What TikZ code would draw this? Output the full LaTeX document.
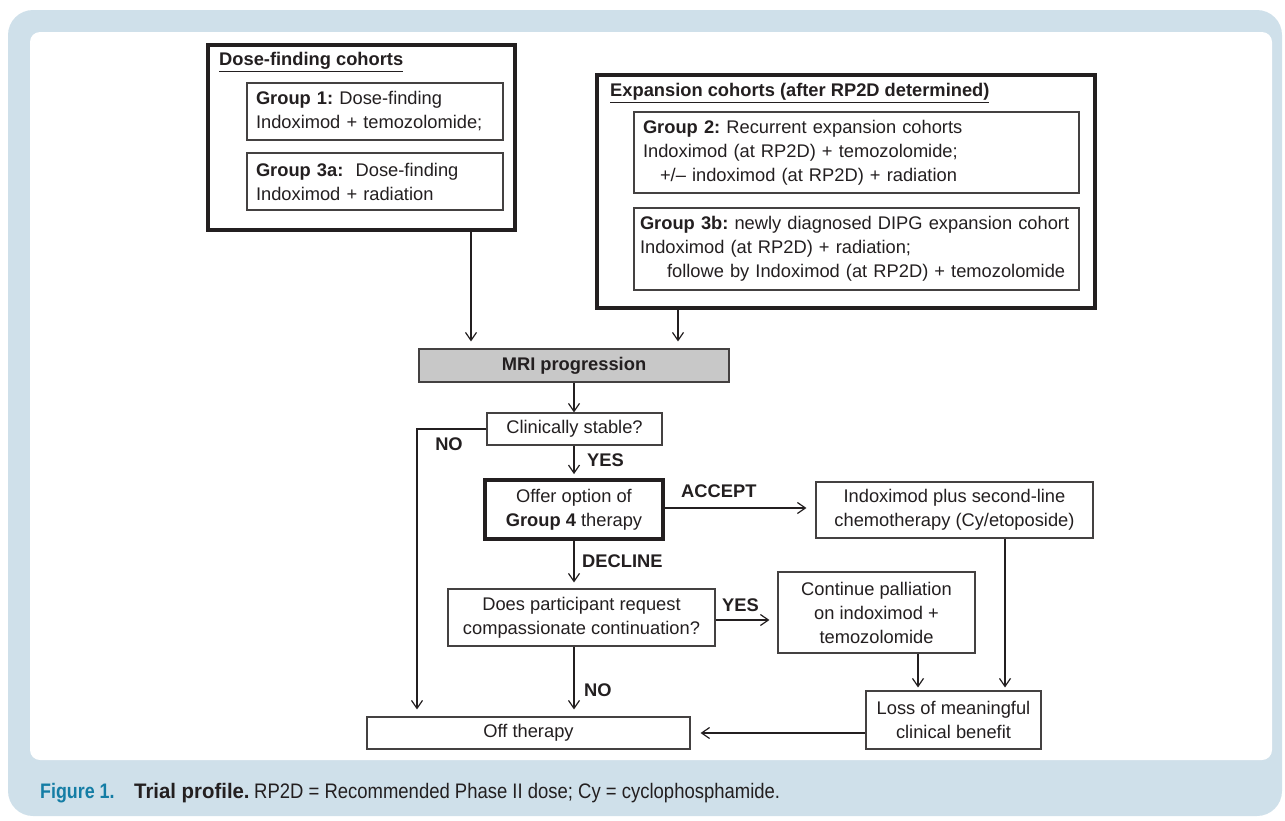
\documentclass[tikz,border=0pt]{standalone}
\usepackage{fontspec}
\setmainfont{Liberation Sans}
\newfontfamily\capfont[FakeStretch=0.88]{Liberation Sans}
\newfontfamily\capfigfont[FakeStretch=0.85]{Liberation Sans}
\newfontfamily\capwide[FakeStretch=0.97]{Liberation Sans}
\usetikzlibrary{arrows.meta}
\definecolor{framebg}{RGB}{207,224,234}
\definecolor{figteal}{RGB}{20,125,165}
\definecolor{mrigray}{RGB}{200,200,200}
\definecolor{ink}{RGB}{35,31,32}
\begin{document}
\frenchspacing
\begin{tikzpicture}[x=1pt,y=-1pt,
  every node/.style={font=\fontsize{18.3}{24}\selectfont, text=ink},
  thinbox/.style={draw=ink!85, line width=1.1pt, inner sep=0pt},
  thickbox/.style={draw=ink, line width=3.8pt, inner sep=0pt},
  lbl/.style={font=\fontsize{18.3}{24}\selectfont\bfseries, inner sep=0pt},
  ttl/.style={font=\fontsize{18.3}{24}\selectfont\bfseries, inner sep=0pt, anchor=west},
  leftbox/.style={thinbox, align=left},
  midbox/.style={thinbox, align=center},
  conn/.style={draw=ink, line width=1.2pt},
  arr/.style={conn, -{Straight Barb[length=8pt,width=11pt,line width=1.2pt]}},
  capt/.style={anchor=base west, inner sep=0pt, font=\capfont\fontsize{21}{24}\selectfont},
]
\useasboundingbox (0,0) rectangle (1285,820);
\fill[framebg, rounded corners=25pt] (8,10) rectangle (1282,816);
\fill[white, rounded corners=10pt] (30,32) rectangle (1272,760);

% column / row helpers
\coordinate (xa) at (471,0);
\coordinate (xb) at (678,0);
\coordinate (xs) at (574,0);
\coordinate (xn) at (417,0);
\coordinate (xc) at (918,0);
\coordinate (xi) at (1005,0);
\coordinate (ya) at (0,508);
\coordinate (yy) at (0,620);
\coordinate (yl) at (0,733);

% dose-finding cohorts
\node[thickbox, minimum width=307pt, minimum height=185pt] (dose) at (361.5,137.5) {};
\node[ttl] (dosetitle) at (219,62) {\underline{Dose-finding cohorts}};
\node[leftbox, text width=238pt, inner xsep=9pt, minimum height=57pt] (g1) at (375,111.5)
  {\textbf{Group 1:} Dose-finding\\Indoximod + temozolomide;};
\node[leftbox, text width=238pt, inner xsep=9pt, minimum height=57pt] (g3a) at (375,181.5)
  {\textbf{Group 3a:}\ \ Dose-finding\\Indoximod + radiation};

% expansion cohorts
\node[thickbox, minimum width=498pt, minimum height=233pt] (exp) at (846,191.5) {};
\node[ttl] (exptitle) at (610,93) {\underline{Expansion cohorts (after RP2D determined)}};
\node[leftbox, text width=427pt, inner xsep=9pt, minimum height=81pt] (g2) at (856.5,152.5)
  {\textbf{Group 2:} Recurrent expansion cohorts\\Indoximod (at RP2D) + temozolomide;\\\hspace*{17pt}+/– indoximod (at RP2D) + radiation};
\node[leftbox, text width=433pt, inner xsep=6pt, minimum height=82pt] (g3b) at (856.5,249)
  {\mbox{\textbf{Group 3b:} newly diagnosed DIPG expansion cohort}\\Indoximod (at RP2D) + radiation;\\\hspace*{27pt}followe by Indoximod (at RP2D) + temozolomide};

% flow
\node[midbox, fill=mrigray, minimum width=310pt, minimum height=33pt, font=\fontsize{18.3}{24}\selectfont\bfseries] (mri) at (574,365.5) {MRI progression};
\node[midbox, minimum width=175pt, minimum height=32pt] (clin) at (574.5,429) {Clinically stable?};
\node[thickbox, align=center, minimum width=178pt, minimum height=59pt] (offer) at (574,509.5) {Offer option of\\\textbf{Group 4} therapy};
\node[midbox, minimum width=277pt, minimum height=56pt] (indox) at (954.5,510) {Indoximod plus second-line\\chemotherapy (Cy/etoposide)};
\node[midbox, minimum width=267pt, minimum height=57pt] (does) at (581.5,617.5) {Does participant request\\compassionate continuation?};
\node[midbox, minimum width=197pt, minimum height=81pt] (cont) at (876.5,612.5) {Continue palliation\\on indoximod +\\temozolomide};
\node[midbox, minimum width=175pt, minimum height=58pt] (loss) at (953.5,720) {Loss of meaningful\\clinical benefit};
\node[midbox, minimum width=323pt, minimum height=32pt] (off) at (528.5,733) {Off therapy};

% connectors
\draw[arr, shorten >=7pt] (dose.south -| xa) -- (mri.north -| xa);
\draw[arr, shorten >=7pt] (exp.south -| xb) -- (mri.north -| xb);
\draw[arr] (mri.south -| xs) -- (clin.north -| xs);
\draw[arr, shorten >=4pt] (clin.south -| xs) -- (offer.north -| xs);
\draw[arr, shorten >=7pt] (clin.west) -| (off.north -| xn);
\draw[arr, shorten >=9pt] (offer.east |- ya) -- (indox.west |- ya);
\draw[arr, shorten >=6pt] (offer.south -| xs) -- (does.north -| xs);
\draw[arr, shorten >=8pt] (does.east |- yy) -- (cont.west |- yy);
\draw[arr, shorten >=3pt] (cont.south -| xc) -- (loss.north -| xc);
\draw[arr, shorten >=3pt] (indox.south -| xi) -- (loss.north -| xi);
\draw[arr, shorten >=10pt] (loss.west |- yl) -- (off.east |- yl);
\draw[arr, shorten >=7pt] (does.south -| xs) -- (off.north -| xs);

% labels
\node[lbl] (lno1) at (449,444) {NO};
\node[lbl, anchor=west] (lyes1) at (587,460) {YES};
\node[lbl, anchor=west] (lacc) at (681,491) {ACCEPT};
\node[lbl, anchor=west] (ldec) at (582,561) {DECLINE};
\node[lbl, anchor=west] (lyes2) at (722,605) {YES};
\node[lbl, anchor=west] (lno2) at (584,690) {NO};

% caption
\node[capt, text=figteal, font=\capfigfont\fontsize{21}{24}\selectfont\bfseries] (fig) at (40,798) {Figure 1.};
\node[capt, font=\capwide\fontsize{21}{24}\selectfont\bfseries] (tp) at (134,798) {Trial profile.};
\node[capt] (cap) at (254,798) {RP2D = Recommended Phase II dose; Cy = cyclophosphamide.};
\end{tikzpicture}
\end{document}
